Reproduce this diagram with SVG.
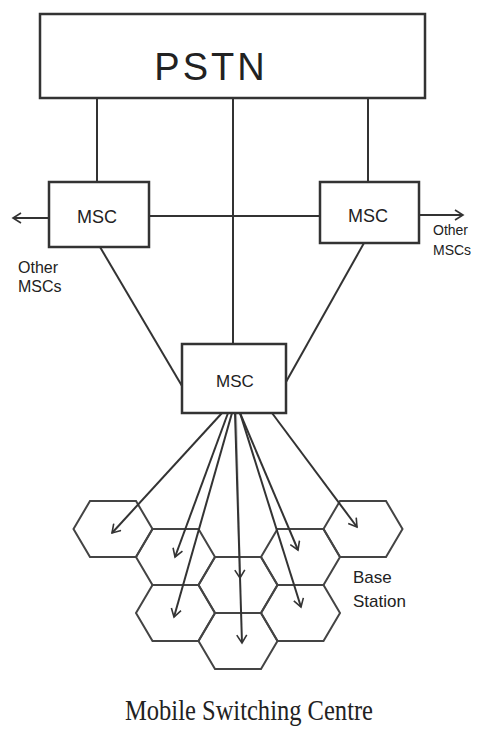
<svg xmlns="http://www.w3.org/2000/svg" width="489" height="741" viewBox="0 0 489 741">
<style>
.box{fill:#fff;stroke:#333;stroke-width:2.5}
.ln{stroke:#333;stroke-width:2;fill:none}
.hex{fill:none;stroke:#444;stroke-width:2}
.lbl{font-family:"Liberation Sans",Arial,sans-serif;fill:#222}
</style>
<defs>
<marker id="v" viewBox="-10 -6 12 12" refX="0" refY="0" markerWidth="12" markerHeight="12" markerUnits="userSpaceOnUse" orient="auto">
<path d="M-8,-5 L0,0 L-8,5" fill="none" stroke="#333" stroke-width="1.6"/>
</marker>
<polygon id="hx" points="-39.5,0 -23,-28 23,-28 39.5,0 23,28 -23,28"/>
</defs>
<rect width="489" height="741" fill="#fff"/>
<g id="cells">
<use href="#hx" class="hex" x="113" y="529"/>
<use href="#hx" class="hex" x="175.5" y="557"/>
<use href="#hx" class="hex" x="175.5" y="613"/>
<use href="#hx" class="hex" x="238" y="585"/>
<use href="#hx" class="hex" x="238" y="641"/>
<use href="#hx" class="hex" x="300.5" y="557"/>
<use href="#hx" class="hex" x="300.5" y="613"/>
<use href="#hx" class="hex" x="363" y="529"/>
</g>
<g id="connectors">
<line class="ln" x1="97" y1="98" x2="97" y2="182"/>
<line class="ln" x1="233" y1="98" x2="233" y2="344"/>
<line class="ln" x1="368" y1="98" x2="368" y2="182"/>
<line class="ln" x1="149" y1="216" x2="320" y2="216"/>
<line class="ln" x1="49" y1="218" x2="13" y2="218" marker-end="url(#v)"/>
<line class="ln" x1="419" y1="215" x2="463" y2="215" marker-end="url(#v)"/>
<line class="ln" x1="100" y1="247" x2="182" y2="386"/>
<line class="ln" x1="364" y1="243" x2="286" y2="382"/>
<line class="ln" x1="222" y1="413" x2="112" y2="533" marker-end="url(#v)"/>
<line class="ln" x1="228" y1="413" x2="175" y2="557" marker-end="url(#v)"/>
<line class="ln" x1="232" y1="413" x2="174" y2="617" marker-end="url(#v)"/>
<line class="ln" x1="235" y1="413" x2="242" y2="643" marker-end="url(#v)"/>
<line class="ln" x1="236" y1="413" x2="240" y2="578" stroke-opacity="0.35" marker-end="url(#v)"/>
<line class="ln" x1="240" y1="413" x2="298" y2="550" marker-end="url(#v)"/>
<line class="ln" x1="240" y1="413" x2="301" y2="607" marker-end="url(#v)"/>
<line class="ln" x1="272" y1="413" x2="357" y2="527" marker-end="url(#v)"/>
</g>
<g id="pstn">
<rect class="box" x="40" y="14" width="385" height="84"/>
<text class="lbl" x="211" y="80" font-size="38" text-anchor="middle" letter-spacing="3">PSTN</text>
</g>
<g id="msc-left">
<rect class="box" x="49" y="182" width="100" height="65"/>
<text class="lbl" x="97" y="223" font-size="18" text-anchor="middle">MSC</text>
</g>
<g id="msc-right">
<rect class="box" x="320" y="182" width="99" height="61"/>
<text class="lbl" x="368" y="222" font-size="18" text-anchor="middle">MSC</text>
</g>
<g id="msc-center">
<rect class="box" x="182" y="344" width="104" height="69"/>
<text class="lbl" x="235" y="387" font-size="17" text-anchor="middle">MSC</text>
</g>
<g id="label-left">
<text class="lbl" x="18" y="273" font-size="16">Other</text>
<text class="lbl" x="18" y="292" font-size="16">MSCs</text>
</g>
<g id="label-right">
<text class="lbl" x="433" y="235" font-size="14">Other</text>
<text class="lbl" x="433" y="255" font-size="14">MSCs</text>
</g>
<g id="label-base">
<text class="lbl" x="353" y="583" font-size="17">Base</text>
<text class="lbl" x="353" y="607" font-size="17">Station</text>
</g>
<text x="249" y="720" font-family="Liberation Serif,'Times New Roman',serif" font-size="30" text-anchor="middle" textLength="248" lengthAdjust="spacingAndGlyphs" fill="#222">Mobile Switching Centre</text>
</svg>
